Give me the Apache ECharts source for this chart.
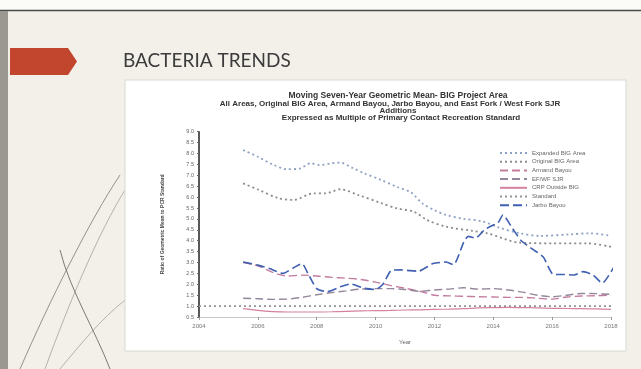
<!DOCTYPE html>
<html>
<head>
<meta charset="UTF-8">
<title>Bacteria Trends</title>
<script src="https://cdn.jsdelivr.net/npm/echarts@6/dist/echarts.min.js"></script>
<style>
  html, body { margin: 0; padding: 0; }
  #main { width: 641px; height: 369px; }
</style>
</head>
<body>
<div id="main"></div>
<script>
// year ticks on the x axis
var xTicks = [2004, 2006, 2008, 2010, 2012, 2014, 2016, 2018];

// series (year, ratio to PCR standard)
var expandedYears  = [2005.5, 2006, 2006.5, 2007, 2007.4, 2007.8, 2008.1, 2008.5, 2008.8, 2009.2, 2009.6, 2010.2, 2010.7, 2011.2, 2011.6, 2012, 2012.4, 2013, 2013.6, 2014.2, 2014.9, 2015.6, 2016.6, 2017.3, 2018];
var expandedValues = [8.16, 7.85, 7.5, 7.28, 7.3, 7.55, 7.47, 7.55, 7.58, 7.35, 7.1, 6.78, 6.48, 6.22, 5.7, 5.4, 5.18, 5.0, 4.9, 4.6, 4.34, 4.22, 4.29, 4.34, 4.22];

var originalYears  = [2005.5, 2006, 2006.7, 2007.2, 2007.9, 2008.3, 2008.8, 2009.4, 2010.2, 2010.7, 2011.3, 2011.75, 2012.4, 2013.3, 2013.8, 2014.9, 2016, 2017.2, 2018];
var originalValues = [6.63, 6.35, 5.95, 5.87, 6.17, 6.17, 6.36, 6.1, 5.72, 5.49, 5.33, 4.95, 4.64, 4.45, 4.34, 3.91, 3.88, 3.88, 3.72];

var halfYears   = [2005.5, 2006, 2006.5, 2007, 2007.5, 2008, 2008.5, 2009, 2009.5, 2010, 2010.5, 2011, 2011.5, 2012, 2012.5, 2013, 2013.5, 2014, 2014.5, 2015, 2015.5, 2016, 2016.5, 2017, 2017.5, 2018];
var armandValues = [3.0, 2.85, 2.55, 2.38, 2.42, 2.38, 2.32, 2.28, 2.22, 2.1, 1.95, 1.82, 1.68, 1.5, 1.47, 1.45, 1.43, 1.42, 1.4, 1.4, 1.36, 1.32, 1.42, 1.46, 1.48, 1.5];
var efwfValues   = [1.36, 1.34, 1.31, 1.32, 1.4, 1.52, 1.62, 1.7, 1.78, 1.8, 1.8, 1.76, 1.68, 1.74, 1.78, 1.84, 1.78, 1.8, 1.74, 1.64, 1.5, 1.43, 1.5, 1.58, 1.57, 1.54];
var crpValues    = [0.88, 0.8, 0.75, 0.73, 0.73, 0.73, 0.74, 0.76, 0.78, 0.79, 0.8, 0.82, 0.83, 0.85, 0.86, 0.88, 0.92, 0.93, 0.94, 0.93, 0.92, 0.9, 0.89, 0.88, 0.87, 0.85];

var standardYears  = [2004, 2018];
var standardValues = [1.0, 1.0];

var jarboYears  = [2005.5, 2006, 2006.4, 2006.85, 2007.2, 2007.5, 2007.7, 2008.0, 2008.35, 2008.8, 2009.15, 2009.6, 2010.0, 2010.25, 2010.55, 2010.85, 2011.45, 2011.95, 2012.4, 2012.65, 2013.0, 2013.15, 2013.4, 2013.7, 2014.0, 2014.15, 2014.33, 2014.65, 2014.95, 2015.35, 2015.7, 2016.05, 2016.4, 2016.75, 2017.05, 2017.4, 2017.7, 2018.1];
var jarboValues = [3.02, 2.88, 2.72, 2.5, 2.75, 2.95, 2.5, 1.8, 1.66, 1.88, 2.02, 1.82, 1.76, 2.0, 2.65, 2.66, 2.6, 2.95, 3.02, 2.9, 3.95, 4.2, 4.12, 4.5, 4.72, 4.8, 5.18, 4.57, 4.0, 3.6, 3.25, 2.45, 2.45, 2.43, 2.58, 2.42, 2.05, 2.8];

function zip(xs, ys) {
  return xs.map(function (x, i) { return [x, ys[i]]; });
}

var chartFont = 'Liberation Sans';

var myChart = echarts.init(document.getElementById('main'));

function lineSeries(name, xs, ys, color, type, width, smooth) {
  return {
    name: name,
    type: 'line',
    data: zip(xs, ys),
    showSymbol: false,
    symbol: 'none',
    smooth: smooth,
    itemStyle: { color: color },
    lineStyle: { color: color, type: type, width: width, cap: 'butt' },
    silent: true
  };
}

var option = {
  animation: false,
  backgroundColor: '#f2f0e8',
  graphic: [
    // slide decorations
    { type: 'rect', shape: { x: 0, y: 0, width: 641, height: 10 }, style: { fill: '#fbfbf8' }, z: -10 },
    { type: 'line', shape: { x1: 0, y1: 10.5, x2: 641, y2: 10.5 }, style: { stroke: '#4a4a48', lineWidth: 1.5 }, z: -9 },
    { type: 'rect', shape: { x: 0, y: 11, width: 8, height: 358 }, style: { fill: '#9a9890' }, z: -9 },
    { type: 'bezierCurve', shape: { x1: 20, y1: 369, x2: 120, y2: 175, cpx1: 50, cpy1: 300, cpx2: 90, cpy2: 220 }, style: { stroke: '#7a7870', lineWidth: 0.8, fill: null }, z: -8 },
    { type: 'bezierCurve', shape: { x1: 45, y1: 369, x2: 125, y2: 190, cpx1: 70, cpy1: 300, cpx2: 100, cpy2: 230 }, style: { stroke: '#8a8880', lineWidth: 0.6, fill: null }, z: -8 },
    { type: 'bezierCurve', shape: { x1: 60, y1: 369, x2: 125, y2: 300, cpx1: 80, cpy1: 345, cpx2: 100, cpy2: 320 }, style: { stroke: '#8a8880', lineWidth: 0.6, fill: null }, z: -8 },
    { type: 'bezierCurve', shape: { x1: 110, y1: 369, x2: 60, y2: 250, cpx1: 95, cpy1: 330, cpx2: 70, cpy2: 290 }, style: { stroke: '#6e6c66', lineWidth: 0.9, fill: null }, z: -8 },
    { type: 'polygon', shape: { points: [[10, 48], [68, 48], [77, 61.5], [68, 75], [10, 75]] }, style: { fill: '#c2452d' }, z: -7 },
    { type: 'text', x: 123, y: 61, style: { text: 'BACTERIA TRENDS', fill: '#3c3c3c', font: '19px Lato', textVerticalAlign: 'middle' }, z: -7 },
    // white box behind the chart
    { type: 'rect', shape: { x: 125, y: 80, width: 501, height: 271 }, style: { fill: '#ffffff', stroke: '#d8d8d4', lineWidth: 1 }, z: -6 },
    // chart headings
    { type: 'text', x: 398, y: 95.5, style: { text: 'Moving Seven-Year Geometric Mean- BIG Project Area', fill: '#333', font: 'bold 8.5px Liberation Sans', textAlign: 'center', textVerticalAlign: 'middle' } },
    { type: 'text', x: 390, y: 103.5, style: { text: 'All Areas, Original BIG Area, Armand Bayou, Jarbo Bayou, and East Fork / West Fork SJR', fill: '#333', font: 'bold 8px Liberation Sans', textAlign: 'center', textVerticalAlign: 'middle' } },
    { type: 'text', x: 398, y: 110.5, style: { text: 'Additions', fill: '#333', font: 'bold 8px Liberation Sans', textAlign: 'center', textVerticalAlign: 'middle' } },
    { type: 'text', x: 401, y: 118, style: { text: 'Expressed as Multiple of Primary Contact Recreation Standard', fill: '#333', font: 'bold 8px Liberation Sans', textAlign: 'center', textVerticalAlign: 'middle' } }
  ],
  legend: {
    orient: 'vertical',
    left: 494,
    top: 145,
    itemWidth: 27,
    itemHeight: 6,
    itemGap: 2.7,
    itemStyle: { opacity: 0 },
    textStyle: { fontFamily: chartFont, fontSize: 6, color: '#666', lineHeight: 6 },
    data: ['Expanded BIG Area', 'Original BIG Area', 'Armand Bayou', 'EF/WF SJR', 'CRP Outside BIG', 'Standard', 'Jarbo Bayou']
  },
  grid: { left: 199, right: 30, top: 131.7, bottom: 52 },
  xAxis: {
    type: 'value',
    min: 2004,
    max: 2018,
    interval: 2,
    name: 'Year',
    nameLocation: 'middle',
    nameGap: 22,
    nameTextStyle: { fontFamily: chartFont, fontSize: 6, color: '#666' },
    axisLine: { lineStyle: { color: '#c8c8c8', width: 1 } },
    axisTick: { length: 3, lineStyle: { color: '#999' } },
    axisLabel: {
      fontFamily: chartFont, fontSize: 6, color: '#777', margin: 6,
      formatter: function (v) { return xTicks.indexOf(v) >= 0 ? String(v) : ''; }
    },
    splitLine: { show: false }
  },
  yAxis: {
    type: 'value',
    min: 0.5,
    max: 9,
    interval: 0.5,
    name: 'Ratio of Geometric Mean to PCR Standard',
    nameLocation: 'middle',
    nameRotate: 90,
    nameGap: 34,
    nameTextStyle: { fontFamily: chartFont, fontSize: 5, fontWeight: 'bold', color: '#444' },
    axisLine: { show: true, lineStyle: { color: '#222', width: 1.5 } },
    axisTick: { show: true, length: 2, lineStyle: { color: '#666' } },
    axisLabel: {
      fontFamily: chartFont, fontSize: 5.5, color: '#666', margin: 5,
      formatter: function (v) { return v.toFixed(1); }
    },
    splitLine: { show: false }
  },
  series: [
    lineSeries('Expanded BIG Area', expandedYears, expandedValues, '#8ea2c4', [2, 3], 1.8, 0.3),
    lineSeries('Original BIG Area', originalYears, originalValues, '#8c8c8c', [2, 3], 1.8, 0.3),
    lineSeries('Armand Bayou', halfYears, armandValues, '#c47c9e', [8, 4], 1.4, 0.3),
    lineSeries('EF/WF SJR', halfYears, efwfValues, '#94869c', [8, 4], 1.4, 0.3),
    lineSeries('CRP Outside BIG', halfYears, crpValues, '#d4819b', 'solid', 1.2, 0.3),
    lineSeries('Standard', standardYears, standardValues, '#939393', [2, 3], 1.6, false),
    lineSeries('Jarbo Bayou', jarboYears, jarboValues, '#3f5fb0', [9, 4], 1.6, 0.2)
  ]
};

myChart.setOption(option);
</script>
</body>
</html>
